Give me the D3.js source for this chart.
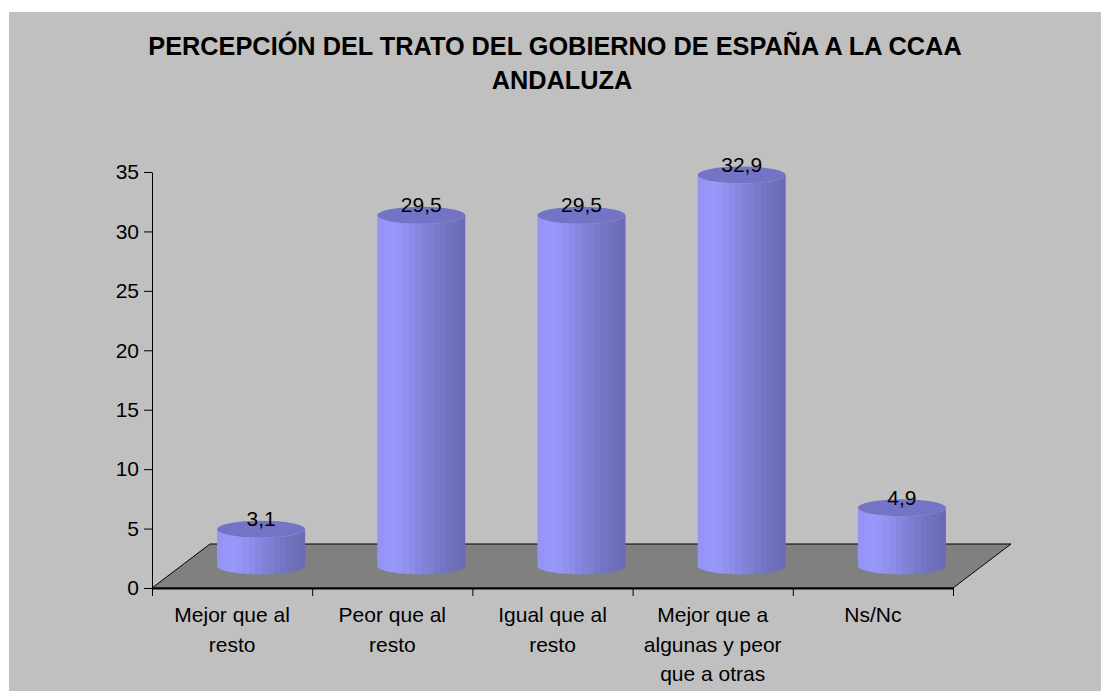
<!DOCTYPE html>
<html>
<head>
<meta charset="utf-8">
<script src="https://cdn.jsdelivr.net/npm/d3@7"></script>
<style>
  body { margin: 0; background: #fff; }
  svg text { font-family: "Liberation Sans", Arial, sans-serif; }
</style>
</head>
<body>
<div id="chart"></div>
<script>
// --- Data ---
const titleLines = ["PERCEPCIÓN DEL TRATO DEL GOBIERNO DE ESPAÑA A LA CCAA", "ANDALUZA"];
const categories = ["Mejor que al resto", "Peor que al resto", "Igual que al resto",
    "Mejor que a algunas y peor que a otras", "Ns/Nc"];
const values = [3.1, 29.5, 29.5, 32.9, 4.9];
const yTicks = [0, 5, 10, 15, 20, 25, 30, 35];

// --- Layout ---
const w = 1101, h = 691;
const plotLeft = 152, plotRight = 953, plotTop = 172, plotBottom = 588;
const depthX = 58, depthY = -44; // floor depth
const rx = 44, ry = 8.5;

const svg = d3.select("#chart").append("svg")
    .attr("width", w)
    .attr("height", h)
    .style("display", "block");

// gray chart area
svg.append("rect")
    .attr("x", 9).attr("y", 12)
    .attr("width", w - 9).attr("height", h - 12)
    .attr("fill", "#c0c0c0");

// title
svg.append("text")
    .attr("x", 555).attr("y", 55)
    .attr("text-anchor", "middle")
    .attr("font-size", "25.3px").attr("font-weight", "bold")
    .text(titleLines[0]);
svg.append("text")
    .attr("x", 562).attr("y", 89)
    .attr("text-anchor", "middle")
    .attr("font-size", "25.3px").attr("font-weight", "bold")
    .text(titleLines[1]);

// scales
const yScale = d3.scaleLinear()
    .domain([0, 35])
    .range([plotBottom, plotTop]);

const xScale = d3.scaleBand()
    .domain(categories)
    .range([plotLeft, plotRight])
    .padding(0);

// floor
svg.append("path")
    .attr("d", "M" + plotLeft + "," + plotBottom +
        "L" + (plotLeft + depthX) + "," + (plotBottom + depthY) +
        "L" + (plotRight + depthX) + "," + (plotBottom + depthY) +
        "L" + plotRight + "," + plotBottom + "Z")
    .attr("fill", "#808080")
    .attr("stroke", "#000")
    .attr("stroke-width", 1);

// cylinder side gradient with facet bands
const defs = svg.append("defs");
const grad = defs.append("linearGradient")
    .attr("id", "side")
    .attr("x1", "0").attr("x2", "1").attr("y1", "0").attr("y2", "0");
const shade = d3.interpolateRgbBasis(["#9292f2", "#9c9cff", "#9090f0", "#8484dc", "#7a7acc", "#7070bd", "#6a6ab2"]);
const nBands = 14;
for (let i = 0; i < nBands; i++) {
    const c = shade((i + 0.5) / nBands);
    grad.append("stop").attr("offset", (i / nBands * 100) + "%").attr("stop-color", c);
    grad.append("stop").attr("offset", ((i + 1) / nBands * 100) + "%").attr("stop-color", c);
}

// bars (cylinders sit at mid depth)
const cx = function (d, i) { return xScale(categories[i]) + xScale.bandwidth() / 2 + depthX / 2; };
const baseY = yScale(0) + depthY / 2;
const topY = function (d) { return yScale(d) + depthY / 2; };

const bars = svg.selectAll(".bar")
    .data(values)
    .enter()
    .append("g")
    .attr("class", "bar");

bars.append("path")
    .attr("d", function (d, i) {
        const x = cx(d, i), t = topY(d);
        return "M" + (x - rx) + "," + t +
            "L" + (x - rx) + "," + baseY +
            "A" + rx + "," + ry + " 0 0 0 " + (x + rx) + "," + baseY +
            "L" + (x + rx) + "," + t +
            "A" + rx + "," + ry + " 0 0 1 " + (x - rx) + "," + t + "Z";
    })
    .attr("fill", "url(#side)");

bars.append("ellipse")
    .attr("cx", cx)
    .attr("cy", topY)
    .attr("rx", rx)
    .attr("ry", ry)
    .attr("fill", "#7474c6");

// value labels
bars.append("text")
    .attr("x", cx)
    .attr("y", function (d) { return topY(d) - 3; })
    .attr("text-anchor", "middle")
    .attr("font-size", "21px")
    .attr("fill", "#000")
    .text(function (d) { return String(d).replace(".", ","); });

// y axis
const yAxis = d3.axisLeft(yScale)
    .tickValues(yTicks)
    .tickSize(8)
    .tickSizeOuter(0)
    .tickPadding(5);

const gy = svg.append("g")
    .attr("transform", "translate(" + plotLeft + ",0)")
    .call(yAxis);
gy.attr("font-family", null).attr("font-size", null);
gy.selectAll("text").attr("font-size", "21px").attr("fill", "#000");
gy.selectAll("line, path").attr("stroke", "#000");

// x axis: tick marks at category boundaries
const idxScale = d3.scaleLinear().domain([0, categories.length]).range([plotLeft, plotRight]);
const xAxis = d3.axisBottom(idxScale)
    .tickValues(d3.range(categories.length + 1))
    .tickSize(8)
    .tickSizeOuter(0)
    .tickFormat("");

const gx = svg.append("g")
    .attr("transform", "translate(0," + plotBottom + ")")
    .call(xAxis);
gx.select(".domain").attr("stroke", "#000").attr("stroke-width", 2);
gx.selectAll("line").attr("stroke", "#000");

// category labels, wrapped
const labels = svg.selectAll(".cat")
    .data(categories)
    .enter()
    .append("text")
    .attr("class", "cat")
    .attr("x", function (d) { return xScale(d) + xScale.bandwidth() / 2; })
    .attr("y", 622)
    .attr("text-anchor", "middle")
    .attr("font-size", "21px")
    .attr("fill", "#000");

labels.each(function (d) {
    const el = d3.select(this);
    const words = d.split(" ");
    const x = el.attr("x");
    let line = [];
    let tspan = el.append("tspan").attr("x", x).attr("dy", 0);
    words.forEach(function (word) {
        line.push(word);
        tspan.text(line.join(" "));
        if (tspan.node().getComputedTextLength() > 150 && line.length > 1) {
            line.pop();
            tspan.text(line.join(" "));
            line = [word];
            tspan = el.append("tspan").attr("x", x).attr("dy", 29.5).text(word);
        }
    });
});
</script>
</body>
</html>
